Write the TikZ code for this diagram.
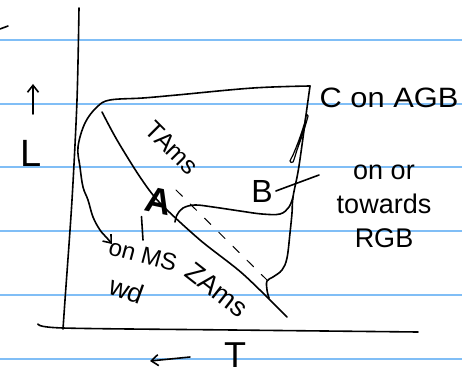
\documentclass[tikz,border=0pt]{standalone}
\usepackage{fontspec}
\setmainfont{Liberation Sans}
\usetikzlibrary{arrows.meta}
\definecolor{ruled}{HTML}{80BEF6}
\begin{document}
\begin{tikzpicture}[x=1pt,y=-1pt,
  ink/.style={line width=1.6pt, line cap=round, line join=round},
  ruleline/.style={ruled, line width=2pt},
  hand/.style={inner sep=0pt, font=\fontsize{26}{34}\selectfont},
  barb/.style={-{Straight Barb[length=7pt,width=11pt]}},
]
\useasboundingbox (0,0) rectangle (462,374);
% ruled paper
\foreach \y in {40,104,167,231,295,359} \draw[ruleline] (0,\y) -- (462,\y);
% stray tick
\draw[ink] (0,29) -- (8,26);
% axes
\draw[ink] plot[smooth] coordinates {(79,8) (77,100) (72,200) (65,300) (63,329)};
\draw[ink] plot[smooth] coordinates {(38,324) (63,328) (233,330) (418,332)};
% axis labels
\coordinate (upfoot) at (33,114);
\coordinate (uptip) at (33,84);
\draw[ink,barb] (upfoot) -- (uptip);
\node[hand, font=\fontsize{38}{40}\selectfont] (lum) at (31,153) {L};
\coordinate (lfoot) at (190,357);
\coordinate (ltip) at (150,361);
\draw[ink,barb] (lfoot) -- (ltip);
\node[hand, font=\fontsize{36}{40}\selectfont] (temp) at (235,355) {T};
% labels
\node[hand, font=\fontsize{28}{34}\selectfont, xscale=1.1] (clabel) at (389,98) {C on AGB};
\node[hand, font=\fontsize{32}{34}\selectfont] (blabel) at (262,191) {B};
\node[hand, align=center, font=\fontsize{27}{34}\selectfont] (rgbtext) at (384,206) {on or\\towards\\RGB};
\node[hand, font=\bfseries\fontsize{36}{40}\selectfont, rotate=-12] (alabel) at (159,201) {A};
\node[hand, font=\fontsize{25}{34}\selectfont, rotate=-45] (tams) at (172,148) {TAms};
\node[hand, font=\fontsize{24}{34}\selectfont, rotate=-15] (onms) at (143,255) {on MS};
\node[hand, font=\fontsize{27}{34}\selectfont, rotate=-38] (zams) at (217,290) {ZAms};
\node[hand, font=\fontsize{27}{34}\selectfont, rotate=-20] (wd) at (127,290) {wd};
% ZAMS line
\draw[ink] plot[smooth] coordinates {(102,112) (117,140) (140,177) (160,203) (200,240) (243,274) (287,317)};
% dashed parallel
\draw[ink, line width=1pt, dash pattern=on 9pt off 11pt] (176,190) -- (268,281);
% outer track with arrow to "on MS"
\draw[ink, barb] plot[smooth, tension=0.6] coordinates {(310,86) (253,88) (177,95) (143,98) (110,100) (97,107) (85,123) (78,147) (80,167) (83,187) (88,200) (93,217) (100,230) (107,238) (112,244)};
% right track down from C
\draw[ink] plot[smooth, tension=0.6] coordinates {(310,86) (306,115) (302,145) (298,172) (293,197) (292,213) (290,233) (287,258) (282,270) (273,277) (267,281) (267,290) (269,298)};
% inner loop towards B
\draw[ink] plot[smooth, tension=0.6] coordinates {(293,197) (289,207) (280,214) (262,214) (240,211) (213,207) (195,205) (183,208) (177,215) (175,222)};
% hairpin near C
\draw[ink, line width=1.2pt] plot[smooth, tension=0.5] coordinates {(305,122) (299,140) (293,155) (290,161) (293,162) (297,150) (303,133) (308,116) (306,116) (305,122)};
% connectors
\coordinate (rgbend) at (319,175);
\draw[ink] (blabel.east) ++(3,0) -- (rgbend);
\draw[ink] (alabel.south west) ++(-2,6) .. controls (142,228) .. (143,240);
\end{tikzpicture}
\end{document}
